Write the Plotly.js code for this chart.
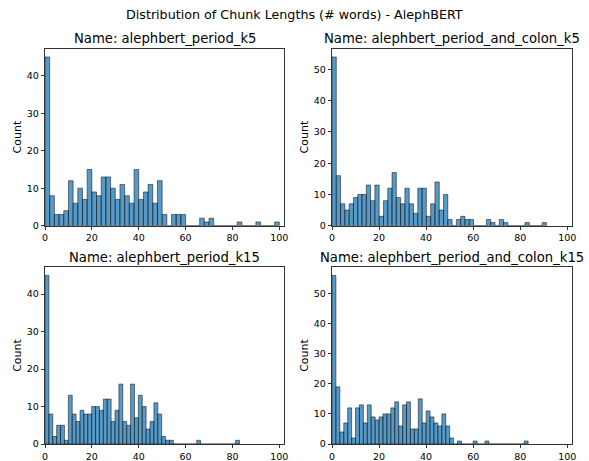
<!DOCTYPE html>
<html>
<head>
<meta charset="utf-8">
<script src="https://cdn.plot.ly/plotly-3.0.1.min.js"></script>
<style>html,body{margin:0;padding:0;background:#fff;}#chart{width:589px;height:461px;}</style>
</head>
<body>
<div id="chart"></div>
<script>
// Panel names
const panelNames = ["alephbert_period_k5", "alephbert_period_and_colon_k5",
                    "alephbert_period_k15", "alephbert_period_and_colon_k15"];
// Histogram bin settings (50 bins each, starting at 0)
const binStarts = [0, 0, 0, 0];
const binSizes = [2.0, 1.823, 1.66, 1.667];
// Counts per bin
const countsK5 = [45,8,3,3,4,12,6,10,7,15,9,8,13,13,10,7,11,8,6,15,7,9,11,6,12,3,0,3,3,3,
                  0,0,0,2,1,2,0,0,0,0,0,1,0,0,0,1,0,0,0,1];
const countsColonK5 = [54,16,7,5,7,9,10,10,13,8,13,3,8,12,17,9,7,12,7,4,12,12,3,7,14,5,10,2,0,2,3,2,2,
                       0,0,0,2,1,0,2,1,0,0,0,0,1,0,0,0,1];
const countsK15 = [45,8,2,5,5,1,13,8,6,9,8,8,10,10,9,12,12,6,9,16,6,5,16,7,13,10,4,6,11,8,2,1,1,
                   0,0,0,0,0,0,1,0,0,0,0,0,0,0,0,0,1];
const countsColonK15 = [56,19,4,7,12,2,12,13,7,13,9,8,9,10,10,12,14,6,13,14,5,5,15,7,11,9,7,6,10,6,2,
                        0,1,0,0,0,1,0,0,1,0,0,0,0,0,0,0,0,0,1];
const xTicks = [0, 20, 40, 60, 80, 100];
const allCounts = [countsK5, countsColonK5, countsK15, countsColonK15];

const suffix = ["", "2", "3", "4"];
const traces = allCounts.map((c, i) => ({
  type: "bar",
  x: c.map((_, k) => binStarts[i] + binSizes[i] * (k + 0.5)),
  y: c,
  width: binSizes[i],
  xaxis: "x" + suffix[i],
  yaxis: "y" + suffix[i],
  marker: {color: "rgba(31,119,180,0.75)", line: {color: "rgba(0,0,0,0.7)", width: 0.7}},
  showlegend: false,
  hoverinfo: "x+y"
}));

const W = 589, H = 461;
const xDomL = [45 / W, 284 / W], xDomR = [332 / W, 572 / W];
const yDomT = [1 - 225.7 / H, 1 - 48.5 / H], yDomB = [1 - 444 / H, 1 - 267 / H];
const domains = [[xDomL, yDomT], [xDomR, yDomT], [xDomL, yDomB], [xDomR, yDomB]];

const font = "DejaVu Sans, sans-serif";
const layout = {
  width: W, height: H,
  margin: {l: 0, r: 0, t: 0, b: 0},
  paper_bgcolor: "#fff", plot_bgcolor: "#fff",
  font: {family: font, color: "#000"},
  bargap: 0,
  annotations: [],
};
const axBase = {
  showline: true, mirror: true, linecolor: "#000", linewidth: 0.8,
  ticks: "outside", ticklen: 3.5, tickwidth: 0.8, tickcolor: "#000",
  showgrid: false, zeroline: false, automargin: false,
  tickfont: {family: font, size: 9.5, color: "#000"}
};
allCounts.forEach((c, i) => {
  const maxC = Math.max(...c);
  const [xd, yd] = domains[i];
  layout["xaxis" + suffix[i]] = Object.assign({}, axBase, {
    domain: xd, range: [0, 102], tickvals: xTicks, anchor: "y" + suffix[i]
  });
  layout["yaxis" + suffix[i]] = Object.assign({}, axBase, {
    domain: yd, range: [0, maxC * 1.05], dtick: 10, anchor: "x" + suffix[i],
    title: {text: "Count", font: {family: font, size: 11, color: "#000"}, standoff: 2}
  });
  layout.annotations.push({
    text: "Name: " + panelNames[i], xref: "paper", yref: "paper",
    x: (xd[0] + xd[1]) / 2, y: yd[1] + 10 / H, xanchor: "center", yanchor: "middle",
    showarrow: false, font: {family: font, size: 13.2, color: "#000"}
  });
});
layout.annotations.push({
  text: "Distribution of Chunk Lengths (# words) - AlephBERT", xref: "paper", yref: "paper",
  x: 0.5, y: 1 - 15 / H, xanchor: "center", yanchor: "middle", showarrow: false,
  font: {family: font, size: 12.7, color: "#000"}
});
Plotly.newPlot("chart", traces, layout, {displayModeBar: false, staticPlot: true});
</script>
</body>
</html>
